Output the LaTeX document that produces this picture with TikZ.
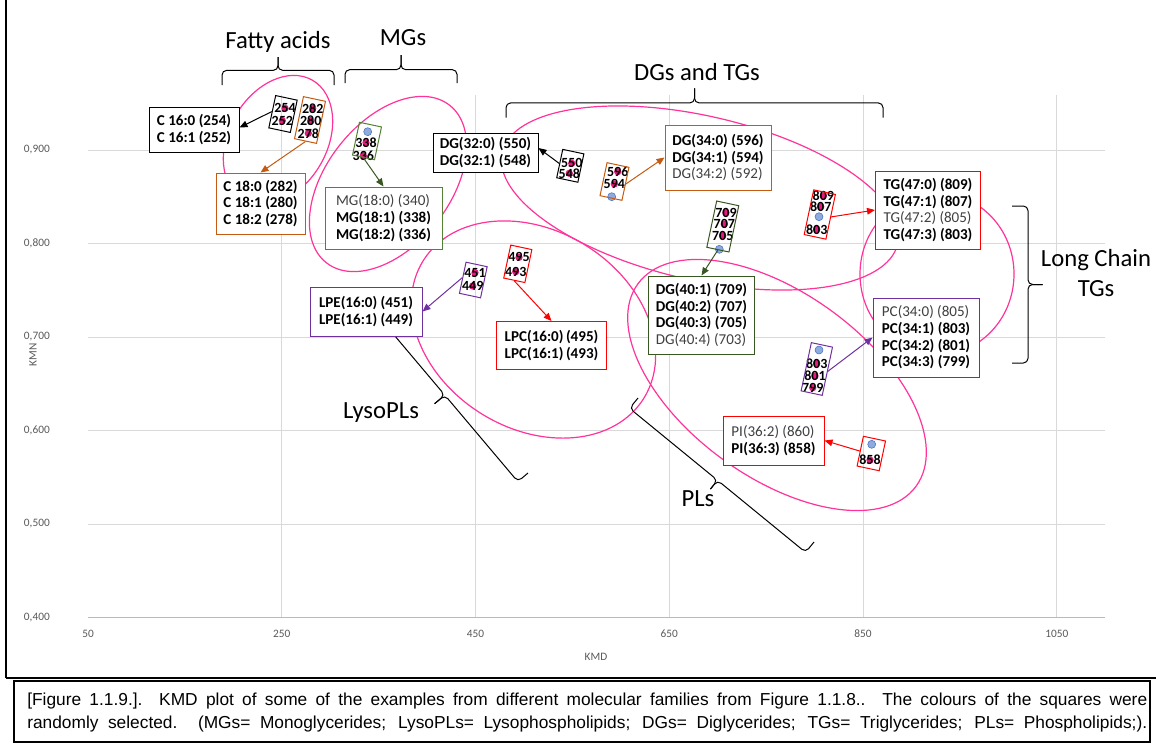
\documentclass[tikz,border=0pt]{standalone}
\usepackage{fontspec}
\setmainfont{Carlito}
\newfontfamily\capfont{Liberation Sans}
\usetikzlibrary{arrows.meta,calc}
\definecolor{hpink}{RGB}{255,51,153}
\definecolor{dotpink}{RGB}{230,25,125}
\definecolor{dotblue}{RGB}{143,170,220}
\definecolor{dotblueb}{RGB}{68,114,196}
\definecolor{xorange}{RGB}{197,90,17}
\definecolor{xgreen}{RGB}{84,130,53}
\definecolor{xdgreen}{RGB}{56,87,35}
\definecolor{xred}{RGB}{255,0,0}
\definecolor{xpurple}{RGB}{112,48,160}
\definecolor{gridc}{RGB}{217,217,217}
\definecolor{axc}{RGB}{89,89,89}
\definecolor{normt}{RGB}{64,64,64}
% brace: #1 start, #2 end, #3 half amplitude, #4 full amplitude
\newcommand{\mybrc}[4]{%
  \coordinate (brA) at #1; \coordinate (brB) at #2;
  \coordinate (brM) at ($(brA)!0.5!(brB)$);
  \coordinate (brP) at ($(brA)!#3!90:(brB)$);
  \coordinate (brQ) at ($(brM)!#3!90:(brB)$);
  \coordinate (brT) at ($(brM)!#4!90:(brB)$);
  \coordinate (brR) at ($(brB)!#3!-90:(brA)$);
  \draw[brline] (brA) -- (brP) -- (brQ) -- (brT);
  \draw[brline] (brT) -- (brQ) -- (brR) -- (brB);
}
\begin{document}
\begin{tikzpicture}[x=0.75pt,y=-0.75pt]
\tikzset{
 gridln/.style={gridc, line width=0.75pt},
 famell/.style={hpink, line width=0.9pt},
 lbox/.style={draw, fill=white, line width=0.75pt, font=\fontsize{11.3}{12.5}\selectfont, align=left, inner sep=0pt, text=black},
 mbox/.style={draw, line width=0.75pt, inner sep=0pt, rotate=-12},
 num/.style={font=\fontsize{10.5}{10.5}\bfseries\selectfont, inner sep=0pt},
 pdot/.style={circle, fill=dotpink, inner sep=0pt, minimum size=5.5pt},
 bdot/.style={circle, fill=dotblue, draw=dotblueb, line width=0.4pt, inner sep=0pt, minimum size=6pt},
 conn/.style={line width=0.75pt, -{Triangle[length=6pt,width=5pt]}},
 bracelab/.style={font=\fontsize{18.5}{22.5}\selectfont, inner sep=0pt, align=center},
 brline/.style={line width=0.75pt, rounded corners=3.5pt},
 ticklab/.style={font=\fontsize{8.5}{10}\selectfont, text=axc, inner sep=0pt},
}
\useasboundingbox (0,0) rectangle (1156,744);
% frames
\draw[line width=1pt] (6,0) -- (6,678);
\draw[line width=1.5pt] (6,678) -- (1156,678);
\draw[line width=1pt] (14,681) rectangle (1150,742);
% grid
\foreach \yy in {150,243.5,337,430.5,524} \draw[gridln] (88,\yy) -- (1105,\yy);
\foreach \xx in {281.75,475.5,669.25,863,1056.75} \draw[gridln] (\xx,95) -- (\xx,617.5);
\draw[line width=0.75pt, gray!55] (88,617.5) -- (1105,617.5);
% tick labels
\foreach \yy/\lab in {150/0{,}900,243.5/0{,}800,337/0{,}700,430.5/0{,}600,524/0{,}500,617.5/0{,}400}
  \node[ticklab, anchor=east] at (50,\yy) {\lab};
\foreach \xx/\lab in {88/50,281.75/250,475.5/450,669.25/650,863/850,1056.75/1050}
  \node[ticklab] at (\xx,634) {\lab};
\node[ticklab] (kmd) at (596,657) {KMD};
\node[ticklab, rotate=90] (kmn) at (33,355) {KMN};
% ellipses
\draw[famell, rotate around={60:(278,140)}] (278,140) ellipse [x radius=69, y radius=49];
\draw[famell, rotate around={52:(388,184)}] (388,184) ellipse [x radius=100, y radius=62];
\draw[famell, rotate around={-13:(700,198)}] (700,198) ellipse [x radius=203, y radius=82];
\draw[famell, rotate around={-32:(533.5,329.5)}] (533.5,329.5) ellipse [x radius=130, y radius=99];
\draw[famell, rotate around={-36:(777,385)}] (777,385) ellipse [x radius=172, y radius=92];
\draw[famell] (937,274) ellipse [x radius=77, y radius=81];
% braces
\mybrc{(222,85)}{(334,85)}{11pt}{21pt}
\mybrc{(345,83)}{(457,83)}{10pt}{21pt}
\mybrc{(506,117.6)}{(883,117.6)}{11pt}{22pt}
\mybrc{(1012,206)}{(1012,363)}{12pt}{23pt}
\mybrc{(528,473)}{(382,300)}{10pt}{20pt}
\mybrc{(814,542)}{(638,398)}{10pt}{18.5pt}
\node[bracelab] (tfa) at (278,42) {Fatty acids};
\node[bracelab] (tmg) at (403,38) {MGs};
\node[bracelab] (tdg) at (697,72) {DGs and TGs};
\node[bracelab] (tlc) at (1096,273) {Long Chain\\TGs};
\node[bracelab] (tly) at (381,413) {LysoPLs};
\node[bracelab] (tpl) at (698,499) {PLs};
% data points (blue)
\foreach \px/\py in {367.7/131.7,611.7/196.7,719.3/249.3,819/216.7,819/350,871.7/444.3}
  \node[bdot] at (\px,\py) {};
% data points (pink) with labels
\foreach \px/\py/\lab in {285/108.3/254,282.3/120.7/252,312.7/108.3/282,310.7/120.7/280,308.3/133.3/278,
  366/142.7/338,363.3/155.7/336,571.7/163.3/550,569.3/173.3/548,617.7/171.7/596,614.3/184/594,
  726/212.7/709,724.3/224/707,722.7/235.7/705,823.3/196/809,820.7/206.7/807,816.7/229.3/803,
  475/272.7/451,472.7/286/449,519/257.3/495,515.7/271.7/493,816.7/363.3/803,815/376/801,812.7/387.7/799,870/460/858}
  {\node[pdot] at (\px,\py) {}; \node[num] at (\px,\py) {\lab};}
% marker boxes
\node[mbox, minimum width=22*0.75pt, minimum height=33*0.75pt] (m1) at (283,114) {};
\node[mbox, draw=xorange, minimum width=22.5*0.75pt, minimum height=43*0.75pt] (m2) at (310,120) {};
\node[mbox, draw=xgreen, minimum width=22.5*0.75pt, minimum height=33.5*0.75pt] (m3) at (367,141) {};
\node[mbox, minimum width=21.6*0.75pt, minimum height=29*0.75pt] (m4) at (570.3,165.8) {};
\node[mbox, draw=xorange, minimum width=22.4*0.75pt, minimum height=33.7*0.75pt] (m5) at (614.5,181.5) {};
\node[mbox, draw=xdgreen, minimum width=22.6*0.75pt, minimum height=47.3*0.75pt] (m6) at (722.8,226.5) {};
\node[mbox, draw=xred, minimum width=22.2*0.75pt, minimum height=45.7*0.75pt] (m7) at (819.8,214.5) {};
\node[mbox, draw=xpurple, minimum width=21.6*0.75pt, minimum height=31.8*0.75pt] (m8) at (473.3,280) {};
\node[mbox, draw=xred, minimum width=21.6*0.75pt, minimum height=33.7*0.75pt] (m9) at (517.8,263.8) {};
\node[mbox, draw=xpurple, minimum width=21.6*0.75pt, minimum height=49.3*0.75pt] (m10) at (816.8,369) {};
\node[mbox, draw=xred, minimum width=22.6*0.75pt, minimum height=30.4*0.75pt] (m11) at (871.3,453.5) {};
% label boxes
\node[lbox, minimum width=90*0.75pt, minimum height=45*0.75pt] (c16) at (194,129.5) {\textbf{C 16:0 (254)}\\\textbf{C 16:1 (252)}};
\node[lbox, draw=xorange, minimum width=89*0.75pt, minimum height=61*0.75pt] (c18) at (260.5,203.5) {\textbf{C 18:0 (282)}\\\textbf{C 18:1 (280)}\\\textbf{C 18:2 (278)}};
\node[lbox, draw=xgreen, minimum width=117*0.75pt, minimum height=62*0.75pt] (mg) at (383.5,218) {{\color{normt}MG(18:0) (340)}\\\textbf{MG(18:1) (338)}\\\textbf{MG(18:2) (336)}};
\node[lbox, minimum width=105*0.75pt, minimum height=39*0.75pt] (dg32) at (485.5,152.5) {\textbf{DG(32:0) (550)}\\\textbf{DG(32:1) (548)}};
\node[lbox, draw=xorange, minimum width=106*0.75pt, minimum height=65*0.75pt] (dg34) at (718,157.5) {\textbf{DG(34:0) (596)}\\\textbf{DG(34:1) (594)}\\{\color{normt}DG(34:2) (592)}};
\node[lbox, draw=xred, minimum width=105*0.75pt, minimum height=78*0.75pt] (tg47) at (928,210) {\textbf{TG(47:0) (809)}\\\textbf{TG(47:1) (807)}\\{\color{normt}TG(47:2) (805)}\\\textbf{TG(47:3) (803)}};
\node[lbox, draw=xpurple, minimum width=112*0.75pt, minimum height=49*0.75pt] (lpe) at (366,311.5) {\textbf{LPE(16:0) (451)}\\\textbf{LPE(16:1) (449)}};
\node[lbox, draw=xred, minimum width=110*0.75pt, minimum height=48*0.75pt] (lpc) at (551.5,345.5) {\textbf{LPC(16:0)\,(495)}\\\textbf{LPC(16:1)\,(493)}};
\node[lbox, draw=xdgreen, minimum width=106*0.75pt, minimum height=78*0.75pt] (dg40) at (701.5,315) {\textbf{DG(40:1) (709)}\\\textbf{DG(40:2) (707)}\\\textbf{DG(40:3) (705)}\\{\color{normt}DG(40:4) (703)}};
\node[lbox, draw=xpurple, minimum width=106*0.75pt, minimum height=79*0.75pt] (pc) at (926,337.5) {{\color{normt}PC(34:0) (805)}\\\textbf{PC(34:1) (803)}\\\textbf{PC(34:2) (801)}\\\textbf{PC(34:3) (799)}};
\node[lbox, draw=xred, minimum width=101*0.75pt, minimum height=49*0.75pt] (pi) at (773.5,440.5) {{\color{normt}PI(36:2) (860)}\\\textbf{PI(36:3) (858)}};
% connectors
\draw[conn] (m1.west) -- ($(c16.east)+(0,-2)$);
\draw[conn, xorange] (m2.south) -- (c18.north);
\draw[conn, xdgreen] (m3.south) -- (mg.north);
\draw[conn] (m4.west) -- ($(dg32.east)+(0,-4.5)$);
\draw[conn, xorange] (m5.east) -- (dg34.west);
\draw[conn, xdgreen] (m6.south) -- (dg40.north);
\draw[conn, xred] (m7.east) -- (tg47.west);
\draw[conn, xpurple] (m8.west) -- (lpe.east);
\draw[conn, xred] (m9.south) -- (lpc.north);
\draw[conn, xpurple] (m10.east) -- (pc.west);
\draw[conn, xred] (m11.west) -- (pi.east);
% caption
\node[inner sep=0pt, anchor=west, font=\capfont\fontsize{13}{15}\selectfont] (cap1) at (27,701) {\makebox[840pt][s]{[Figure 1.1.9.]. KMD plot of some of the examples from different molecular families from Figure 1.1.8.. The colours of the squares were}};
\node[inner sep=0pt, anchor=west, font=\capfont\fontsize{13}{15}\selectfont] (cap2) at (27,724) {\makebox[840pt][s]{randomly selected. (MGs= Monoglycerides; LysoPLs= Lysophospholipids; DGs= Diglycerides; TGs= Triglycerides; PLs= Phospholipids;).}};
\end{tikzpicture}
\end{document}
